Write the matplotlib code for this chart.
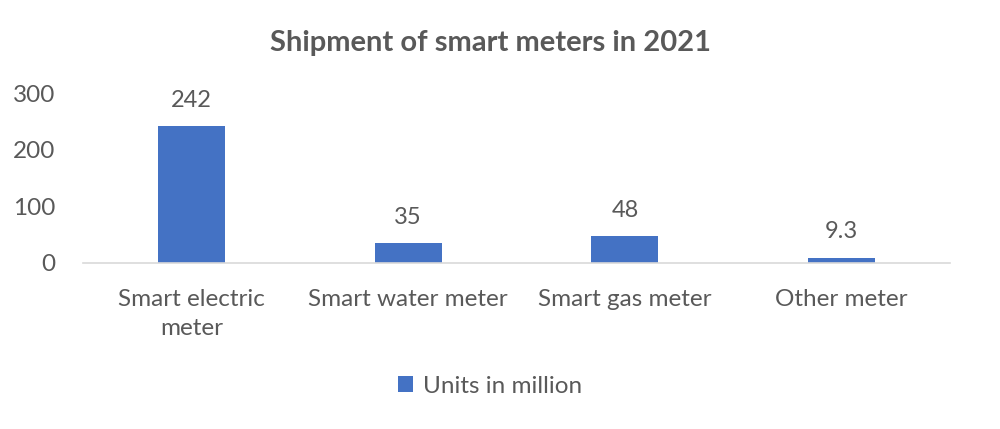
import matplotlib.pyplot as plt

plt.rcParams['font.family'] = ['Lato', 'DejaVu Sans']

# Data
categories = ['Smart electric\nmeter', 'Smart water meter', 'Smart gas meter', 'Other meter']
units = [242, 35, 48, 9.3]
value_labels = ['242', '35', '48', '9.3']

text_color = '#595959'
bar_color = '#4472C4'

fig = plt.figure(figsize=(10, 4.29), dpi=100)
ax = fig.add_axes([0.083, 0.387, 0.867, 0.396])

x = range(len(categories))
bars = ax.bar(x, units, width=0.31, color=bar_color, label='Units in million')

for b, lab in zip(bars, value_labels):
    ax.annotate(lab, (b.get_x() + b.get_width() / 2, b.get_height()),
                xytext=(0, 11), textcoords='offset points',
                ha='center', va='bottom', fontsize=17, color=text_color)

ax.set_xlim(-0.5, len(categories) - 0.5)
ax.set_ylim(0, 300)
ax.set_yticks([0, 100, 200, 300])
ax.set_xticks(list(x))
ax.set_xticklabels(categories, fontsize=17.5, color=text_color, linespacing=1.45)
ax.tick_params(axis='y', labelsize=17.5, labelcolor=text_color, length=0, pad=20)
ax.tick_params(axis='x', length=0, pad=19)

for s in ['top', 'right', 'left']:
    ax.spines[s].set_visible(False)
ax.spines['bottom'].set_color('#D9D9D9')
ax.spines['bottom'].set_linewidth(1.2)

fig.text(0.49, 0.9, 'Shipment of smart meters in 2021', ha='center', va='center',
         fontsize=21, fontweight='bold', color=text_color)

fig.legend(handles=[bars], labels=['Units in million'], loc='center',
           bbox_to_anchor=(0.49, 0.1), frameon=False, fontsize=17.5,
           labelcolor=text_color, handlelength=0.6, handleheight=0.6,
           handletextpad=0.4)

fig.savefig('out.png', dpi=100)
